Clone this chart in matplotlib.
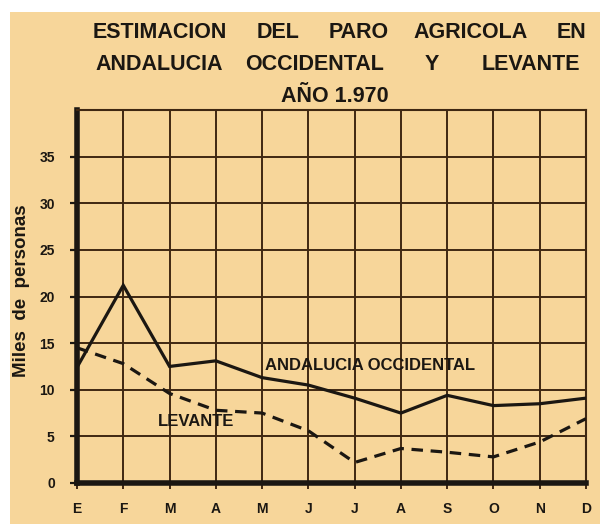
import matplotlib
matplotlib.use("Agg")
import matplotlib.pyplot as plt
from matplotlib.patches import Rectangle

months = ["E", "F", "M", "A", "M", "J", "J", "A", "S", "O", "N", "D"]
andalucia = [12.4, 21.2, 12.5, 13.1, 11.3, 10.5, 9.1, 7.5, 9.4, 8.3, 8.5, 9.1]
levante = [14.5, 12.8, 9.6, 7.8, 7.5, 5.6, 2.2, 3.7, 3.3, 2.8, 4.4, 6.9]
yticks = [0, 5, 10, 15, 20, 25, 30, 35]

BG = "#F7D69A"
GRID = "#3f2812"
INK = "#1b1712"
FONT = "Liberation Sans"

fig = plt.figure(figsize=(6.0, 5.24), dpi=100, facecolor="white")
fig.patches.append(Rectangle((10 / 600, 0), 1 - 10 / 600, 1 - 12 / 524,
                             transform=fig.transFigure, facecolor=BG,
                             edgecolor="none", zorder=-10))

ax = fig.add_axes([77 / 600, 1 - 483 / 524, (586 - 77) / 600, (483 - 110) / 524])
ax.set_facecolor(BG)
x = list(range(len(months)))
ax.set_xlim(0, len(months) - 1)
ax.set_ylim(0, 40)

for xv in x:
    ax.axvline(xv, color=GRID, lw=1.4, zorder=1)
for yv in range(0, 45, 5):
    ax.axhline(yv, color=GRID, lw=1.4, zorder=1)

ax.plot(x, andalucia, color=INK, lw=2.3, zorder=3, solid_joinstyle="miter")
ax.plot(x, levante, color=INK, lw=2.3, zorder=3, linestyle=(0, (3.6, 2.4)))

ax.text(4.06, 12.6, "ANDALUCIA OCCIDENTAL", fontsize=12, fontweight="bold",
        family=FONT, color=INK, ha="left", va="center", zorder=4)
ax.text(1.75, 6.6, "LEVANTE", fontsize=12, fontweight="bold",
        family=FONT, color=INK, ha="left", va="center", zorder=4)

ax.set_xticks(x)
ax.set_xticklabels(months, fontsize=10, fontweight="bold", family=FONT, color=INK)
ax.set_yticks(yticks)
ax.set_yticklabels([str(v) for v in yticks], fontsize=10, fontweight="bold",
                   family=FONT, color=INK)
ax.tick_params(axis="y", length=5, width=1.6, color=INK, pad=11)
ax.tick_params(axis="x", length=4, width=1.4, color=GRID, pad=10)

for side in ["left", "bottom"]:
    ax.spines[side].set_linewidth(4.0)
    ax.spines[side].set_color(INK)
for side in ["top", "right"]:
    ax.spines[side].set_linewidth(1.5)
    ax.spines[side].set_color(GRID)

fig.text(22 / 600, 1 - 291 / 524, "Miles  de  personas", rotation=90,
         fontsize=13.5, fontweight="bold", family=FONT, color=INK,
         ha="center", va="center")

title_rows = [
    (32, [("ESTIMACION", 160), ("DEL", 278), ("PARO", 359), ("AGRICOLA", 471), ("EN", 572)]),
    (64, [("ANDALUCIA", 159), ("OCCIDENTAL", 315), ("Y", 432), ("LEVANTE", 531)]),
    (97, [("AÑO 1.970", 335)]),
]
for ypix, words in title_rows:
    for word, xpix in words:
        fig.text(xpix / 600, 1 - ypix / 524, word, fontsize=15.5, fontweight="bold",
                 family=FONT, color=INK, ha="center", va="center")

fig.savefig("out.png", dpi=100, facecolor=fig.get_facecolor())
